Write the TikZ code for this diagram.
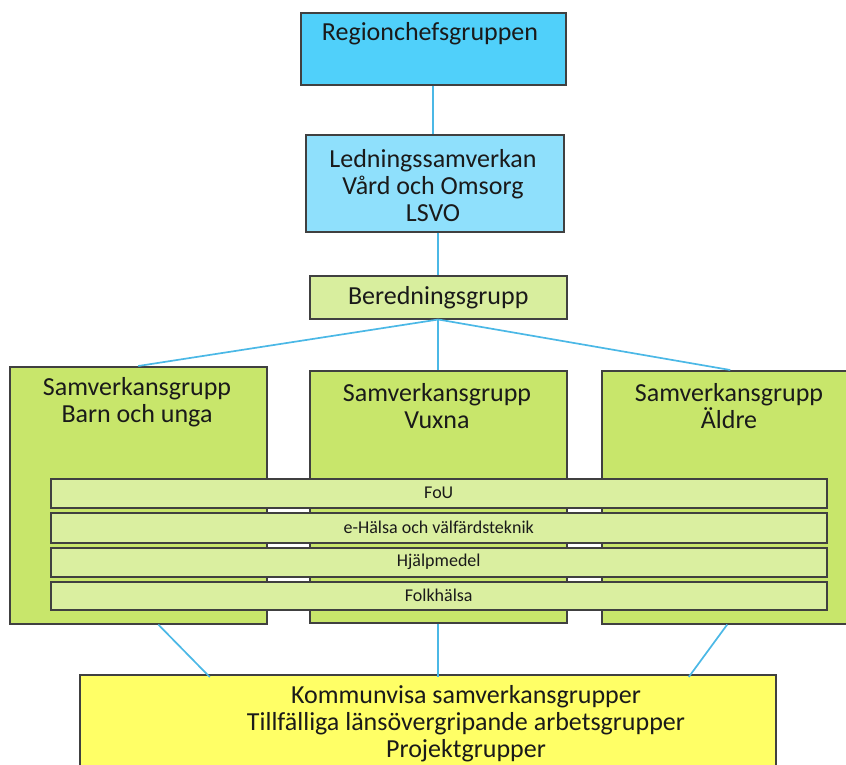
\documentclass[tikz,border=0pt]{standalone}
\usepackage{fontspec}
\setmainfont{Carlito}
\usepackage{tikz}
\usepackage{xcolor}
\definecolor{chefblue}{HTML}{50D0FA}
\definecolor{lsvoblue}{HTML}{8FE0FC}
\definecolor{beredgreen}{HTML}{D8EE9E}
\definecolor{samgreen}{HTML}{C8E66B}
\definecolor{stripgreen}{HTML}{DAEFA0}
\definecolor{kommyellow}{HTML}{FFFF66}
\definecolor{linkblue}{HTML}{4BB8E6}
\definecolor{boxline}{HTML}{404040}
\definecolor{textdark}{HTML}{1A1A1A}

\begin{document}
\begin{tikzpicture}[x=1pt,y=-1pt,
    box/.style={draw=boxline,line width=1.5pt,anchor=north west,inner sep=0pt},
    big/.style={font=\fontsize{26}{27}\selectfont,text=textdark,align=center,inner sep=0pt},
    strip/.style={box,fill=stripgreen,minimum width=776,font=\fontsize{18}{20}\selectfont,text=textdark},
    link/.style={draw=linkblue,line width=1.7pt}]
    \useasboundingbox (0,0) rectangle (846,764);
    \clip (0,0) rectangle (846,764);
        \node[box,fill=chefblue,minimum width=265,minimum height=72] (rcg) at (300,12) {};
        \node[big] (rcgtext) at (430,34) {Regionchefsgruppen};
        \node[box,fill=lsvoblue,minimum width=258,minimum height=97] (lsvo) at (305,134) {};
        \node[big] (lsvotext) at (433,186) {Ledningssamverkan\\Vård och Omsorg\\LSVO};
        \node[box,fill=beredgreen,minimum width=257,minimum height=43,font=\fontsize{26}{27}\selectfont,text=textdark] (bg) at (309,275) {Beredningsgrupp};
        \node[box,fill=samgreen,minimum width=257,minimum height=257] (barn) at (9,366) {};
        \node[box,fill=samgreen,minimum width=257,minimum height=252] (vuxna) at (309,370) {};
        \node[box,fill=samgreen,minimum width=257,minimum height=253] (aldre) at (601,370) {};
        \node[big] (barntext) at (137,402) {Samverkansgrupp\\Barn och unga};
        \node[big] (vuxnatext) at (437,406) {Samverkansgrupp\\Vuxna};
        \node[big] (aldretext) at (729,406) {Samverkansgrupp\\Äldre};
        \node[strip,minimum height=29] (fou) at (50,478) {FoU};
        \node[strip,minimum height=30] (ehalsa) at (50,512) {e-Hälsa och välfärdsteknik};
        \node[strip,minimum height=29] (hjalp) at (50,547) {Hjälpmedel};
        \node[strip,minimum height=28] (folk) at (50,581) {Folkhälsa};
        \node[box,fill=kommyellow,minimum width=696,minimum height=110] (komm) at (79,674) {};
        \node[big] (kommtext) at (466,724) {Kommunvisa samverkansgrupper\\Tillfälliga länsövergripande arbetsgrupper\\Projektgrupper};
        \draw[link] (rcg.south) -- (rcg.south |- lsvo.north);
        \draw[link] (bg.north |- lsvo.south) -- (bg.north);
        \draw[link] (bg.south) -- (barn.north);
        \draw[link] (bg.south) -- (vuxna.north);
        \draw[link] (bg.south) -- (aldre.north);
        \draw[link] ([xshift=20pt]barn.south) -- ([xshift=-218pt,yshift=-3pt]komm.north);
        \draw[link] (vuxna.south) -- ([yshift=-3pt]vuxna.south |- komm.north);
        \draw[link] ([xshift=-3pt]aldre.south) -- ([xshift=261pt,yshift=-3pt]komm.north);
\end{tikzpicture}
\end{document}
